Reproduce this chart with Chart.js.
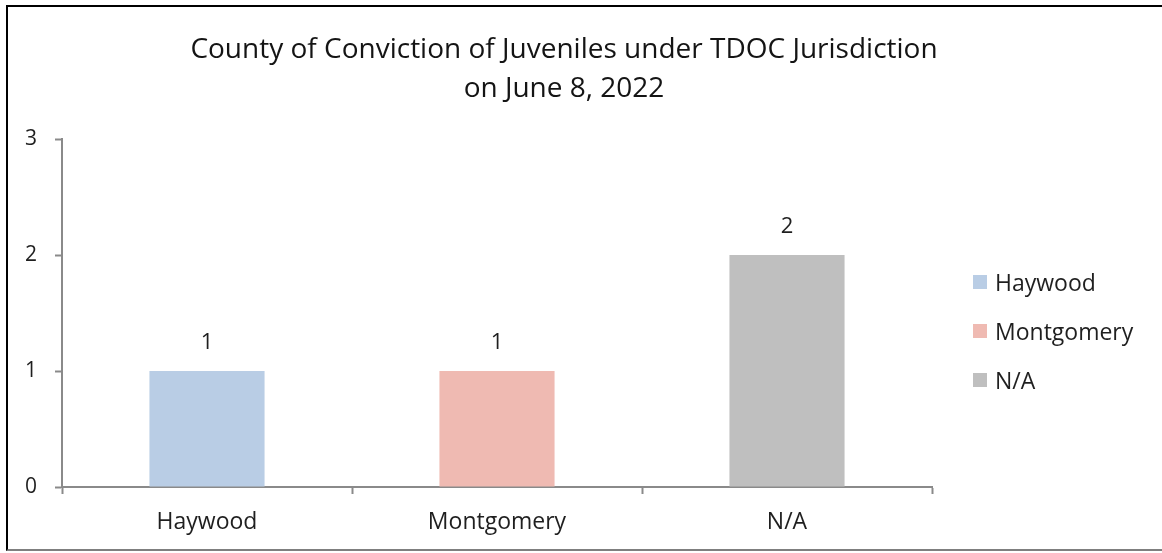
<!DOCTYPE html>
<html>
<head>
<meta charset="utf-8">
<script src="https://cdn.jsdelivr.net/npm/chart.js@4"></script>
<style>
  html, body { margin: 0; padding: 0; background: #fff; }
  #wrap { position: relative; width: 1162px; height: 553px; overflow: hidden; }
  #frame {
    position: absolute; left: 6px; top: 5px; width: 1200px; height: 546px;
    border-left: 2px solid #000; border-top: 2px solid #000; border-bottom: 2px solid #7f7f7f;
    box-sizing: border-box;
  }
  #chart { position: absolute; left: 0; top: 0; }
  #legend { position: absolute; left: 973px; top: 268px; font-family: "Open Sans", sans-serif; font-size: 23px; color: #1f1f1f; }
  #legend .item { display: flex; align-items: center; height: 28px; margin-bottom: 21px; }
  #legend .box { width: 14px; height: 14px; margin-right: 8px; }
</style>
</head>
<body>
<div id="wrap">
  <div id="frame"></div>
  <canvas id="chart" width="1128" height="553"></canvas>
  <div id="legend"></div>
</div>
<script>
const categories = ['Haywood', 'Montgomery', 'N/A'];
const counts = [1, 1, 2];
const barColors = ['#b9cde5', '#efbab2', '#bfbfbf'];
const yTicks = [0, 1, 2, 3];
const titleLines = ['County of Conviction of Juveniles under TDOC Jurisdiction', 'on June 8, 2022'];

const axisColor = '#8a8a8a';
const textColor = '#1f1f1f';
const fontFamily = '"Open Sans", sans-serif';

// legend built from the same arrays as the bars
const legend = document.getElementById('legend');
categories.forEach((c, i) => {
  const item = document.createElement('div');
  item.className = 'item';
  item.innerHTML = `<span class="box" style="background:${barColors[i]}"></span><span>${c}</span>`;
  legend.appendChild(item);
});

// value labels above each bar
const valueLabels = {
  id: 'valueLabels',
  afterDatasetsDraw(chart) {
    const ctx = chart.ctx;
    const meta = chart.getDatasetMeta(0);
    ctx.save();
    ctx.font = `22px ${fontFamily}`;
    ctx.fillStyle = textColor;
    ctx.textAlign = 'center';
    ctx.textBaseline = 'middle';
    meta.data.forEach((bar, i) => {
      ctx.fillText(String(counts[i]), bar.x, bar.y - 28);
    });
    ctx.restore();
  }
};

new Chart(document.getElementById('chart'), {
  type: 'bar',
  data: {
    labels: categories,
    datasets: [{
      data: counts,
      backgroundColor: barColors,
      borderWidth: 0,
      categoryPercentage: 1,
      barPercentage: 0.397
    }]
  },
  options: {
    responsive: false,
    animation: false,
    layout: { padding: 0 },
    plugins: {
      legend: { display: false },
      tooltip: { enabled: false },
      title: {
        display: true,
        text: titleLines,
        color: '#141414',
        font: { family: fontFamily, size: 28, weight: 'normal', lineHeight: 1.393 },
        padding: { top: 31, bottom: 30 }
      }
    },
    scales: {
      x: {
        offset: true,
        afterFit(scale) { scale.height = 66; },
        grid: { offset: true, drawOnChartArea: false, tickLength: 7, tickColor: axisColor, tickWidth: 2 },
        border: { color: axisColor, width: 2 },
        ticks: { color: textColor, padding: 15, font: { family: fontFamily, size: 23 } }
      },
      y: {
        min: 0,
        max: 3,
        afterBuildTicks(scale) { scale.ticks = yTicks.map(v => ({ value: v })); },
        afterFit(scale) { scale.width = 62; },
        grid: { drawOnChartArea: false, tickLength: 7, tickColor: axisColor, tickWidth: 2 },
        border: { color: axisColor, width: 2 },
        ticks: { color: textColor, padding: 18, font: { family: fontFamily, size: 21 } }
      },
      // empty right-hand axis that keeps room for the legend
      side: {
        type: 'linear',
        position: 'right',
        afterFit(scale) { scale.width = 196; },
        grid: { display: false },
        border: { display: false },
        ticks: { display: false }
      }
    }
  },
  plugins: [valueLabels]
});
</script>
</body>
</html>
